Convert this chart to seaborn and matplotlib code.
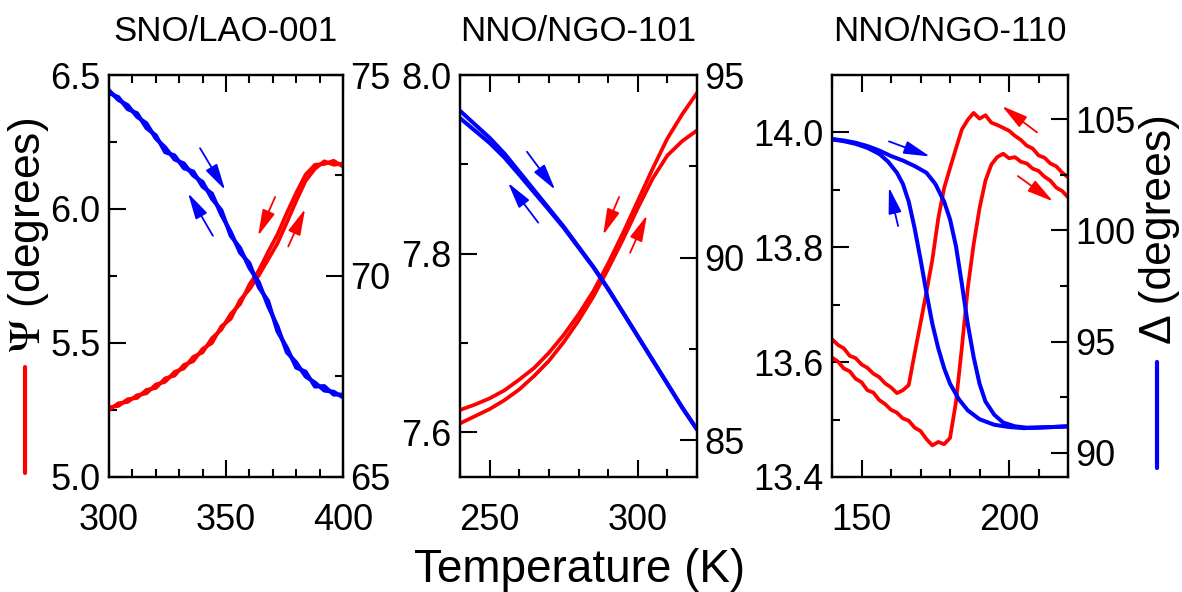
import matplotlib
matplotlib.use("Agg")
import matplotlib.pyplot as plt
from matplotlib.lines import Line2D
from matplotlib.ticker import MultipleLocator
import seaborn as sns

RED = "#ff0000"
BLUE = "#0000ff"

# ---- SNO/LAO-001 ----
sno_T = [300, 304, 308, 312, 316, 320, 324, 328, 332, 336, 340, 344, 348,
         352, 356, 360, 364, 368, 372, 376, 380, 384, 388, 392, 396, 400]
sno_psi_cool = [5.250, 5.275, 5.280, 5.305, 5.312, 5.345, 5.355, 5.392, 5.405,
                5.448, 5.465, 5.518, 5.550, 5.608, 5.645, 5.718, 5.770, 5.840,
                5.905, 5.985, 6.060, 6.128, 6.165, 6.168, 6.180, 6.158]
sno_psi_heat = [5.260, 5.265, 5.290, 5.295, 5.325, 5.332, 5.368, 5.378, 5.418,
                5.432, 5.478, 5.500, 5.562, 5.590, 5.660, 5.700, 5.752, 5.812,
                5.872, 5.950, 6.030, 6.105, 6.150, 6.178, 6.165, 6.170]
sno_delta_cool = [74.62, 74.38, 74.25, 73.96, 73.80, 73.42, 73.20, 72.90, 72.80,
                  72.50, 72.34, 71.92, 71.64, 71.00, 70.70, 70.20, 69.85, 69.25,
                  68.75, 68.10, 67.85, 67.50, 67.35, 67.15, 67.12, 66.98]
sno_delta_heat = [74.55, 74.45, 74.15, 74.05, 73.68, 73.50, 73.08, 73.00, 72.68,
                  72.60, 72.22, 72.05, 71.52, 71.10, 70.58, 70.32, 69.72, 69.38,
                  68.62, 68.22, 67.72, 67.62, 67.25, 67.26, 67.05, 67.05]

# ---- NNO/NGO-101 ----
n101_T = [240, 245, 250, 255, 260, 265, 270, 275, 280, 285, 290, 295, 300,
          305, 310, 315, 320]
n101_psi_a = [7.625, 7.631, 7.638, 7.647, 7.659, 7.672, 7.689, 7.709, 7.732,
              7.758, 7.789, 7.823, 7.859, 7.895, 7.929, 7.956, 7.980]
n101_psi_b = [7.610, 7.618, 7.626, 7.636, 7.648, 7.663, 7.680, 7.701, 7.725,
              7.752, 7.783, 7.816, 7.851, 7.884, 7.910, 7.926, 7.938]
n101_delta_a = [94.02, 93.65, 93.28, 92.85, 92.35, 91.85, 91.35, 90.85, 90.30,
                89.75, 89.15, 88.50, 87.85, 87.20, 86.55, 85.90, 85.30]
n101_delta_b = [93.82, 93.48, 93.14, 92.74, 92.27, 91.79, 91.31, 90.82, 90.28,
                89.74, 89.14, 88.50, 87.85, 87.20, 86.55, 85.90, 85.30]

# ---- NNO/NGO-110 ----
n110_T_psi = [140, 142, 144, 146, 148, 150, 152, 154, 156, 158, 160, 162, 164,
              166, 168, 170, 172, 174, 176, 178, 180, 182, 184, 186, 188, 190,
              192, 194, 196, 198, 200, 202, 204, 206, 208, 210, 212, 214, 216,
              218, 220]
n110_psi_a = [13.640, 13.630, 13.624, 13.611, 13.607, 13.596, 13.590, 13.580,
              13.574, 13.563, 13.556, 13.546, 13.551, 13.560, 13.615, 13.668,
              13.722, 13.778, 13.850, 13.903, 13.938, 13.972, 14.005, 14.022,
              14.034, 14.024, 14.030, 14.017, 14.013, 14.008, 14.003, 13.994,
              13.987, 13.977, 13.972, 13.960, 13.956, 13.946, 13.941, 13.930,
              13.922]
n110_psi_b = [13.608, 13.601, 13.589, 13.584, 13.571, 13.565, 13.551, 13.547,
              13.534, 13.527, 13.517, 13.512, 13.502, 13.498, 13.486, 13.480,
              13.466, 13.455, 13.461, 13.457, 13.468, 13.530, 13.625, 13.728,
              13.805, 13.868, 13.916, 13.944, 13.957, 13.963, 13.955, 13.957,
              13.949, 13.946, 13.937, 13.933, 13.923, 13.916, 13.904, 13.898,
              13.887]
n110_T_delta_cool = [140, 144, 148, 152, 156, 159, 162, 164, 166, 168, 170, 172,
                     174, 176, 178, 180, 183, 186, 190, 195, 200, 205, 210, 215, 220]
n110_delta_cool = [104.10, 104.02, 103.90, 103.72, 103.45, 103.10, 102.60, 102.10,
                   101.30, 100.10, 98.70, 97.20, 95.80, 94.70, 93.80, 93.10, 92.40,
                   91.90, 91.50, 91.25, 91.15, 91.10, 91.12, 91.15, 91.18]
n110_T_delta_heat = [140, 144, 148, 152, 156, 160, 164, 168, 172, 175, 178, 180,
                     182, 184, 186, 188, 190, 192, 195, 198, 202, 206, 210, 215, 220]
n110_delta_heat = [104.12, 104.05, 103.95, 103.80, 103.60, 103.35, 103.15, 102.90,
                   102.60, 102.10, 101.30, 100.50, 99.30, 97.60, 95.80, 94.30,
                   93.10, 92.30, 91.70, 91.35, 91.18, 91.12, 91.13, 91.15, 91.18]

# arrow annotations (tail, head) in each axis' data units
sno_red_arrows = [((371.0, 6.045), (363.7, 5.90)), ((376.6, 5.86), (383.8, 6.00))]
sno_blue_arrows = [((338.9, 73.18), (349.6, 72.14)), ((344.4, 71.00), (333.8, 72.06))]
n101_red_arrows = [((293.7, 7.8635), (288.3, 7.821)), ((297.4, 7.801), (303.1, 7.843))]
n101_blue_arrows = [((262.6, 92.90), (272.1, 91.86)), ((266.4, 90.96), (256.2, 92.05))]
n110_red_arrows = [((209.5, 14.000), (197.6, 14.046)), ((203.0, 13.924), (214.9, 13.880))]
n110_blue_arrows = [((159.3, 104.01), (173.2, 103.33)), ((162.4, 100.20), (159.3, 101.94))]

panels = [
    dict(title="SNO/LAO-001", rect=[0.0922, 0.1943, 0.198, 0.679],
         xlim=(300, 400), psi_lim=(5.0, 6.5), psi_step=0.5, del_lim=(65, 75),
         red=[(sno_T, sno_psi_cool), (sno_T, sno_psi_heat)],
         blue=[(sno_T, sno_delta_cool), (sno_T, sno_delta_heat)],
         red_arrows=sno_red_arrows, blue_arrows=sno_blue_arrows),
    dict(title="NNO/NGO-101", rect=[0.3892, 0.1943, 0.2005, 0.679],
         xlim=(240, 320), psi_lim=(7.55, 8.0), psi_step=0.2, del_lim=(84, 95),
         red=[(n101_T, n101_psi_a), (n101_T, n101_psi_b)],
         blue=[(n101_T, n101_delta_a), (n101_T, n101_delta_b)],
         red_arrows=n101_red_arrows, blue_arrows=n101_blue_arrows),
    dict(title="NNO/NGO-110", rect=[0.7039, 0.1943, 0.1997, 0.679],
         xlim=(140, 220), psi_lim=(13.4, 14.1), psi_step=0.2, del_lim=(88.9, 107),
         red=[(n110_T_psi, n110_psi_a), (n110_T_psi, n110_psi_b)],
         blue=[(n110_T_delta_cool, n110_delta_cool), (n110_T_delta_heat, n110_delta_heat)],
         red_arrows=n110_red_arrows, blue_arrows=n110_blue_arrows),
]

sns.set_style("ticks", rc={"axes.edgecolor": "black", "xtick.color": "black",
                           "ytick.color": "black", "text.color": "black"})
plt.rcParams["font.family"] = ["Liberation Sans", "DejaVu Sans"]
plt.rcParams["mathtext.fontset"] = "stix"

fig = plt.figure(figsize=(11.82, 5.92), dpi=100)

for p in panels:
    ax = fig.add_axes(p["rect"])
    ax2 = ax.twinx()

    for T, v in p["red"]:
        sns.lineplot(x=T, y=v, ax=ax, color=RED, linewidth=2.7, sort=False,
                     estimator=None, legend=False)
    for T, v in p["blue"]:
        sns.lineplot(x=T, y=v, ax=ax2, color=BLUE, linewidth=2.9, sort=False,
                     estimator=None, legend=False)

    arrow = dict(arrowstyle="-|>,head_length=0.8,head_width=0.2", lw=1.3,
                 mutation_scale=20, shrinkA=0, shrinkB=0)
    for tail, head in p["red_arrows"]:
        ax.annotate("", xy=head, xytext=tail, arrowprops=dict(arrow, color=RED))
    for tail, head in p["blue_arrows"]:
        ax2.annotate("", xy=head, xytext=tail, arrowprops=dict(arrow, color=BLUE))

    ax.set_xlim(*p["xlim"])
    ax.set_ylim(*p["psi_lim"])
    ax2.set_ylim(*p["del_lim"])
    ax.xaxis.set_major_locator(MultipleLocator(50))
    ax.xaxis.set_minor_locator(MultipleLocator(10))
    ax.yaxis.set_major_locator(MultipleLocator(p["psi_step"]))
    ax.yaxis.set_minor_locator(MultipleLocator(p["psi_step"] / 2))
    ax2.yaxis.set_major_locator(MultipleLocator(5))
    ax2.yaxis.set_minor_locator(MultipleLocator(2.5))

    ax.tick_params(which="both", direction="in", top=True, right=False,
                   labelsize=26, width=1.5)
    ax.tick_params(which="major", length=12)
    ax.tick_params(which="minor", length=6)
    ax.tick_params(axis="x", pad=19)
    ax.tick_params(axis="y", pad=6)
    ax2.tick_params(which="both", direction="in", left=False, right=True,
                    labelsize=26, width=1.5, pad=5)
    ax2.tick_params(which="major", length=12)
    ax2.tick_params(which="minor", length=6)

    for a in (ax, ax2):
        a.set_xlabel("")
        a.set_ylabel("")
        for s in a.spines.values():
            s.set_linewidth(1.6)

    ax.set_title(p["title"], fontsize=25, y=1.085, va="baseline", pad=0)

fig.text(0.49, 0.017, "Temperature (K)", fontsize=33, ha="center", va="baseline")
fig.text(0.024, 0.603, r"$\Psi$ (degrees)", fontsize=32, rotation=90,
         ha="center", va="center")
fig.text(0.981, 0.613, "Δ (degrees)", fontsize=32, rotation=90,
         ha="center", va="center")
fig.add_artist(Line2D([0.0212, 0.0212], [0.201, 0.380], transform=fig.transFigure,
                      color=RED, lw=3, solid_capstyle="round"))
fig.add_artist(Line2D([0.979, 0.979], [0.2095, 0.3885], transform=fig.transFigure,
                      color=BLUE, lw=3, solid_capstyle="round"))

fig.savefig("out.png", dpi=100)
